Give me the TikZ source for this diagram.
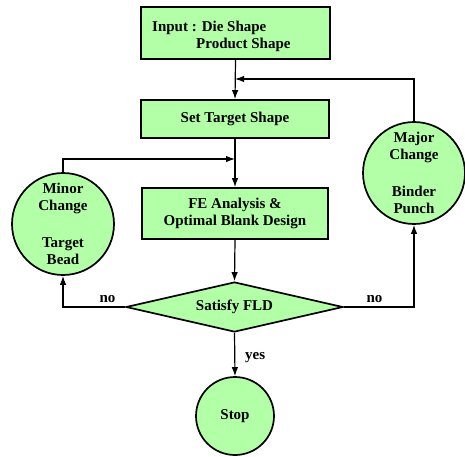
\documentclass[tikz,border=0pt]{standalone}
\usepackage{fontspec}
\setmainfont{Liberation Serif}
\usetikzlibrary{shapes.geometric,arrows.meta}
\definecolor{boxgreen}{RGB}{178,255,168}
\begin{document}
\begin{tikzpicture}[x=1pt,y=-1pt,
  every node/.style={font=\fontsize{15}{17.5}\selectfont\bfseries},
  procbox/.style={draw,line width=1.7pt,fill=boxgreen,rectangle,inner sep=0pt},
  roundbox/.style={draw,line width=1.7pt,fill=boxgreen,circle,inner sep=0pt,align=center},
  decide/.style={draw,line width=1.7pt,fill=boxgreen,diamond,aspect=4.3,inner sep=0pt,
    minimum width=217pt,minimum height=50pt},
  flow/.style={line width=1.2pt,-{Latex[length=9pt,width=6.5pt]}},
  tag/.style={inner sep=0pt}]
\useasboundingbox (0,0) rectangle (465,456);

% process boxes
\node[procbox,minimum width=189pt,minimum height=52pt] (input) at (235.5,33) {};
\node[tag,anchor=base west] (inputa) at (152,31) {Input : Die Shape};
\node[tag,anchor=base west] (inputb) at (196,48) {Product Shape};
\node[procbox,minimum width=188pt,minimum height=38pt] (target) at (235,119) {Set Target Shape};
\node[procbox,minimum width=186pt,minimum height=51pt,align=center] (fe) at (235,213.5)
  {FE Analysis \&\\Optimal Blank Design};

% decision and terminals
\node[decide] (fld) at (234.5,307) {Satisfy FLD};
\node[roundbox,minimum size=78pt] (stop) at (235,416) {Stop};
\node[roundbox,minimum size=102pt] (minor) at (63,224)
  {Minor\\Change\\[19pt]Target\\Bead};
\node[roundbox,minimum size=102pt] (major) at (414,173)
  {Major\\Change\\[19pt]Binder\\Punch};

% junction points on the main line
\coordinate (jmajor) at (235,79);
\coordinate (jminor) at (235,159);

% main flow
\draw[flow] (input.south) -- (target.north);
\draw[flow] (target.south) -- (fe.north);
\draw[flow] (fe.south) -- (fld.north);
\draw[flow] (fld.south) -- (stop.north);

% feedback loops
\draw[flow] (fld.west) -| (minor.south);
\draw[flow] (fld.east) -| (major.south);
\draw[flow] (minor.north) |- (jminor);
\draw[flow] (major.north) |- (jmajor);

% branch labels
\node[tag,anchor=base] (noleft) at (107.5,302) {no};
\node[tag,anchor=base] (noright) at (374.5,302) {no};
\node[tag,anchor=base west] (yes) at (245,359) {yes};
\end{tikzpicture}
\end{document}
